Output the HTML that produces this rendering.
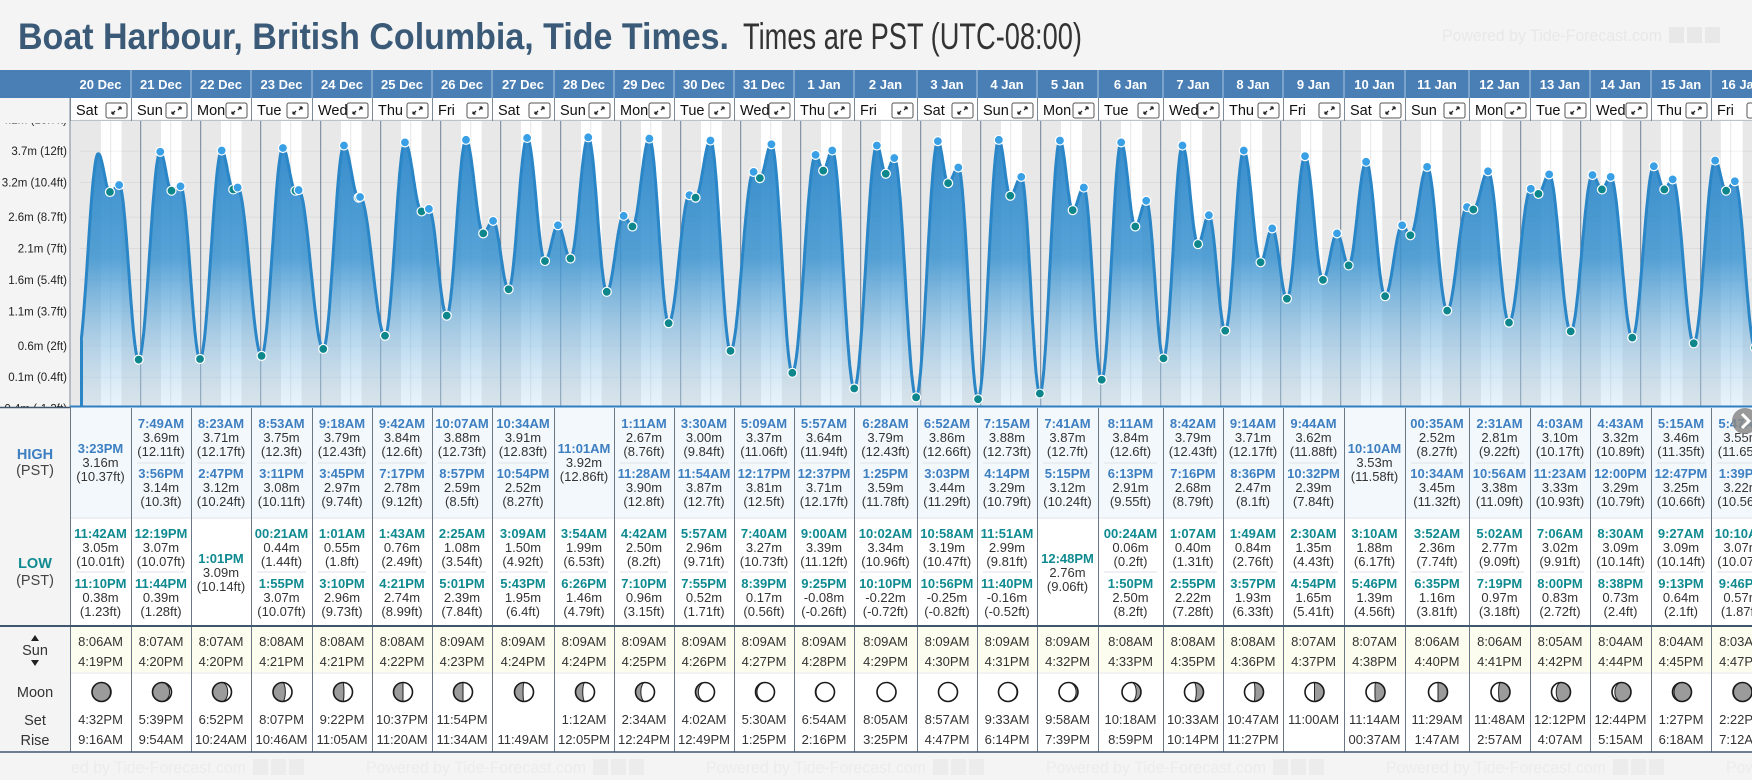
<!DOCTYPE html>
<html><head><meta charset="utf-8"><style>
html,body{margin:0;padding:0;background:#f4f4f4;width:1752px;height:780px;overflow:hidden}
svg{display:block;font-family:"Liberation Sans",sans-serif}
</style></head><body>
<svg id="root" width="1752" height="780" viewBox="0 0 1752 780" xmlns="http://www.w3.org/2000/svg">
<rect x="0" y="0" width="1752" height="780" fill="#f4f4f4"/>
<text x="18" y="49" font-size="37" font-weight="bold" fill="#3a5a78" textLength="711" lengthAdjust="spacingAndGlyphs">Boat Harbour, British Columbia, Tide Times.</text>
<text x="743" y="49" font-size="37" fill="#333" textLength="339" lengthAdjust="spacingAndGlyphs">Times are PST (UTC-08:00)</text>
<g>
<text x="1442" y="41" font-size="17" fill="#e8e8e8" textLength="220" lengthAdjust="spacingAndGlyphs">Powered by Tide-Forecast.com</text>
<rect x="1669" y="27" width="15" height="16" fill="#e8e8e8"/><rect x="1687" y="27" width="15" height="16" fill="#e8e8e8"/><rect x="1705" y="27" width="15" height="16" fill="#e8e8e8"/>
</g>
<g id="g"></g>
</svg>
<script>
const days=['20 Dec','21 Dec','22 Dec','23 Dec','24 Dec','25 Dec','26 Dec','27 Dec','28 Dec','29 Dec','30 Dec','31 Dec','1 Jan','2 Jan','3 Jan','4 Jan','5 Jan','6 Jan','7 Jan','8 Jan','9 Jan','10 Jan','11 Jan','12 Jan','13 Jan','14 Jan','15 Jan','16 Jan'];
const dows=['Sat','Sun','Mon','Tue','Wed','Thu','Fri','Sat','Sun','Mon','Tue','Wed','Thu','Fri','Sat','Sun','Mon','Tue','Wed','Thu','Fri','Sat','Sun','Mon','Tue','Wed','Thu','Fri'];
const highs=[
[['3:23PM',3.16,'10.37']],
[['7:49AM',3.69,'12.11'],['3:56PM',3.14,'10.3']],
[['8:23AM',3.71,'12.17'],['2:47PM',3.12,'10.24']],
[['8:53AM',3.75,'12.3'],['3:11PM',3.08,'10.11']],
[['9:18AM',3.79,'12.43'],['3:45PM',2.97,'9.74']],
[['9:42AM',3.84,'12.6'],['7:17PM',2.78,'9.12']],
[['10:07AM',3.88,'12.73'],['8:57PM',2.59,'8.5']],
[['10:34AM',3.91,'12.83'],['10:54PM',2.52,'8.27']],
[['11:01AM',3.92,'12.86']],
[['1:11AM',2.67,'8.76'],['11:28AM',3.90,'12.8']],
[['3:30AM',3.00,'9.84'],['11:54AM',3.87,'12.7']],
[['5:09AM',3.37,'11.06'],['12:17PM',3.81,'12.5']],
[['5:57AM',3.64,'11.94'],['12:37PM',3.71,'12.17']],
[['6:28AM',3.79,'12.43'],['1:25PM',3.59,'11.78']],
[['6:52AM',3.86,'12.66'],['3:03PM',3.44,'11.29']],
[['7:15AM',3.88,'12.73'],['4:14PM',3.29,'10.79']],
[['7:41AM',3.87,'12.7'],['5:15PM',3.12,'10.24']],
[['8:11AM',3.84,'12.6'],['6:13PM',2.91,'9.55']],
[['8:42AM',3.79,'12.43'],['7:16PM',2.68,'8.79']],
[['9:14AM',3.71,'12.17'],['8:36PM',2.47,'8.1']],
[['9:44AM',3.62,'11.88'],['10:32PM',2.39,'7.84']],
[['10:10AM',3.53,'11.58']],
[['00:35AM',2.52,'8.27'],['10:34AM',3.45,'11.32']],
[['2:31AM',2.81,'9.22'],['10:56AM',3.38,'11.09']],
[['4:03AM',3.10,'10.17'],['11:23AM',3.33,'10.93']],
[['4:43AM',3.32,'10.89'],['12:00PM',3.29,'10.79']],
[['5:15AM',3.46,'11.35'],['12:47PM',3.25,'10.66']],
[['5:47AM',3.55,'11.65'],['1:39PM',3.22,'10.56']]];
const lows=[
[['11:42AM',3.05,'10.01'],['11:10PM',0.38,'1.23']],
[['12:19PM',3.07,'10.07'],['11:44PM',0.39,'1.28']],
[['1:01PM',3.09,'10.14']],
[['00:21AM',0.44,'1.44'],['1:55PM',3.07,'10.07']],
[['1:01AM',0.55,'1.8'],['3:10PM',2.96,'9.73']],
[['1:43AM',0.76,'2.49'],['4:21PM',2.74,'8.99']],
[['2:25AM',1.08,'3.54'],['5:01PM',2.39,'7.84']],
[['3:09AM',1.50,'4.92'],['5:43PM',1.95,'6.4']],
[['3:54AM',1.99,'6.53'],['6:26PM',1.46,'4.79']],
[['4:42AM',2.50,'8.2'],['7:10PM',0.96,'3.15']],
[['5:57AM',2.96,'9.71'],['7:55PM',0.52,'1.71']],
[['7:40AM',3.27,'10.73'],['8:39PM',0.17,'0.56']],
[['9:00AM',3.39,'11.12'],['9:25PM',-0.08,'-0.26']],
[['10:02AM',3.34,'10.96'],['10:10PM',-0.22,'-0.72']],
[['10:58AM',3.19,'10.47'],['10:56PM',-0.25,'-0.82']],
[['11:51AM',2.99,'9.81'],['11:40PM',-0.16,'-0.52']],
[['12:48PM',2.76,'9.06']],
[['00:24AM',0.06,'0.2'],['1:50PM',2.50,'8.2']],
[['1:07AM',0.40,'1.31'],['2:55PM',2.22,'7.28']],
[['1:49AM',0.84,'2.76'],['3:57PM',1.93,'6.33']],
[['2:30AM',1.35,'4.43'],['4:54PM',1.65,'5.41']],
[['3:10AM',1.88,'6.17'],['5:46PM',1.39,'4.56']],
[['3:52AM',2.36,'7.74'],['6:35PM',1.16,'3.81']],
[['5:02AM',2.77,'9.09'],['7:19PM',0.97,'3.18']],
[['7:06AM',3.02,'9.91'],['8:00PM',0.83,'2.72']],
[['8:30AM',3.09,'10.14'],['8:38PM',0.73,'2.4']],
[['9:27AM',3.09,'10.14'],['9:13PM',0.64,'2.1']],
[['10:10AM',3.07,'10.07'],['9:46PM',0.57,'1.87']]];
const extraDays=[-1,0,28];
const extraTimes=['10:30PM','7:00AM','6:20AM'];
const extraHeights=[0.37,3.66,3.6];
const sunrise=['8:06AM','8:07AM','8:07AM','8:08AM','8:08AM','8:08AM','8:09AM','8:09AM','8:09AM','8:09AM','8:09AM','8:09AM','8:09AM','8:09AM','8:09AM','8:09AM','8:09AM','8:08AM','8:08AM','8:08AM','8:07AM','8:07AM','8:06AM','8:06AM','8:05AM','8:04AM','8:04AM','8:03AM'];
const sunset=['4:19PM','4:20PM','4:20PM','4:21PM','4:21PM','4:22PM','4:23PM','4:24PM','4:24PM','4:25PM','4:26PM','4:27PM','4:28PM','4:29PM','4:30PM','4:31PM','4:32PM','4:33PM','4:35PM','4:36PM','4:37PM','4:38PM','4:40PM','4:41PM','4:42PM','4:44PM','4:45PM','4:47PM'];
const moonset=['4:32PM','5:39PM','6:52PM','8:07PM','9:22PM','10:37PM','11:54PM','','1:12AM','2:34AM','4:02AM','5:30AM','6:54AM','8:05AM','8:57AM','9:33AM','9:58AM','10:18AM','10:33AM','10:47AM','11:00AM','11:14AM','11:29AM','11:48AM','12:12PM','12:44PM','1:27PM','2:22PM'];
const moonrise=['9:16AM','9:54AM','10:24AM','10:46AM','11:05AM','11:20AM','11:34AM','11:49AM','12:05PM','12:24PM','12:49PM','1:25PM','2:16PM','3:25PM','4:47PM','6:14PM','7:39PM','8:59PM','10:14PM','11:27PM','','00:37AM','1:47AM','2:57AM','4:07AM','5:15AM','6:18AM','7:12AM'];
const moonLit=[0.03,0.1,0.2,0.35,0.45,0.5,0.5,0.55,0.62,0.72,0.85,0.92,0.97,1,1,0.97,0.9,0.75,0.62,0.55,0.5,0.47,0.5,0.4,0.25,0.15,0.08,0.03];
const moonWaxing=[1,1,1,1,1,1,1,1,1,1,1,1,1,1,1,0,0,0,0,0,0,0,0,0,0,0,0,0];
const yTicks=['4.2m (13.7ft)','3.7m (12ft)','3.2m (10.4ft)','2.6m (8.7ft)','2.1m (7ft)','1.6m (5.4ft)','1.1m (3.7ft)','0.6m (2ft)','0.1m (0.4ft)','-0.4m (-1.3ft)'];
const yTickVals=[4.2,3.7,3.2,2.65,2.15,1.65,1.15,0.6,0.1,-0.4];

const colEdges=[70,131,191,251,312,372,432,492,554,614,674,734,794,854,917,977,1037,1098,1163,1223,1283,1344,1405,1469,1530,1590,1651,1711,1772];
const NS='http://www.w3.org/2000/svg';
const G=document.getElementById('g');
function mk(tag,attrs,parent){const e=document.createElementNS(NS,tag);for(const k in attrs)e.setAttribute(k,attrs[k]);(parent||G).appendChild(e);return e;}
function hrs(s){const m=s.match(/(\d+):(\d+)(AM|PM)/);let h=(+m[1])%12;if(m[3]==='PM')h+=12;return h+(+m[2])/60;}
const CH_TOP=121,CH_BOT=407;
function xT(t){return 80.7+60*t;}
function yH(h){return 383.5-h*62.8;}
function cc(i){return (colEdges[i]+colEdges[i+1])/2;}

const defs=mk('defs',{});
const grad=mk('linearGradient',{id:'fillGrad',x1:0,y1:0,x2:0,y2:1},defs);
mk('stop',{offset:'0','stop-color':'#1f7fc6','stop-opacity':'0.9'},grad);
mk('stop',{offset:'0.45','stop-color':'#3a93d0','stop-opacity':'0.85'},grad);
mk('stop',{offset:'1','stop-color':'#b8d9f0','stop-opacity':'0.3'},grad);
const cp=mk('clipPath',{id:'chartClip'},defs);
mk('rect',{x:80,y:CH_TOP,width:1672,height:CH_BOT-CH_TOP},cp);
const fc=mk('clipPath',{id:'footClip'},defs);
mk('rect',{x:70,y:752,width:1682,height:28},fc);

let e=mk('rect',{x:0,y:70,width:1752,height:28,fill:'#4a7fb5'});


e=mk('rect',{x:70,y:98,width:1682,height:23,fill:'#fff'});


mk('line',{x1:0,y1:121,x2:1752,y2:121,stroke:'#7d8a98','stroke-width':1});
for(let i=0;i<days.length;i++){
  const x0=colEdges[i],x1=colEdges[i+1];
  if(i>0){mk('line',{x1:x0,y1:70,x2:x0,y2:98,stroke:'#a9c4df','stroke-width':1});}
  mk('line',{x1:x0+0.5,y1:98,x2:x0+0.5,y2:121,stroke:'#7d8a98','stroke-width':1});
  e=mk('text',{x:cc(i),y:89,'text-anchor':'middle','font-size':13,'font-weight':'bold',fill:'#fff'});
  e.textContent=days[i];
  
  
  e=mk('text',{x:x0+6,y:115,'font-size':14.5,fill:'#111'});
  e.textContent=dows[i];
  
  
  const bx=x1-25,by=103;
  const btn=mk('g',{});
  
  
  mk('rect',{x:bx,y:by,width:21,height:15,rx:2,fill:'#fff',stroke:'#555','stroke-width':1},btn);
  mk('path',{d:`M${bx+6} ${by+11} L${bx+9} ${by+8} M${bx+6} ${by+11} h2.5 M${bx+6} ${by+11} v-2.5 M${bx+15} ${by+4} L${bx+12} ${by+7} M${bx+15} ${by+4} h-2.5 M${bx+15} ${by+4} v2.5`,stroke:'#222','stroke-width':1.3,fill:'none'},btn);
}

e=mk('rect',{x:70,y:CH_TOP,width:1682,height:CH_BOT-CH_TOP,fill:'#e8e8e8'});


const bands=mk('g',{'clip-path':'url(#chartClip)'});
for(let i=0;i<days.length;i++){
  const a=xT(i+hrs(sunrise[i])/24),b=xT(i+hrs(sunset[i])/24);
  e=mk('rect',{x:a,y:CH_TOP,width:b-a,height:CH_BOT-CH_TOP,fill:'#fff'},bands);
  
  
  mk('line',{x1:xT(i+0.5),y1:CH_TOP,x2:xT(i+0.5),y2:CH_BOT,stroke:'#e6e6e6','stroke-width':1},bands);
}
for(let k=0;k<yTickVals.length;k++){
  const y=yH(yTickVals[k]);
  mk('line',{x1:80,y1:y,x2:1752,y2:y,stroke:'#000','stroke-opacity':0.05,'stroke-width':1});
}
for(let d=1;d<days.length;d++){
  e=mk('line',{x1:xT(d),y1:CH_TOP,x2:xT(d),y2:CH_BOT,stroke:'#6e8096','stroke-width':1});
  
  
}
for(let k=0;k<yTicks.length;k++){
  e=mk('text',{x:67,y:yH(yTickVals[k])+4,'text-anchor':'end','font-size':11.5,fill:'#222'});
  e.textContent=yTicks[k];
  
  
}
mk('rect',{x:0,y:98,width:70,height:25,fill:'#f4f4f4'});
mk('line',{x1:70,y1:98,x2:70,y2:407,stroke:'#7d8a98','stroke-width':1});

const ext=[];
for(let i=0;i<extraDays.length;i++)ext.push({t:extraDays[i]+hrs(extraTimes[i])/24,h:extraHeights[i],type:'X'});
for(let i=0;i<days.length;i++){
  highs[i].forEach(r=>ext.push({t:i+hrs(r[0])/24,h:r[1],type:'H'}));
  lows[i].forEach(r=>ext.push({t:i+hrs(r[0])/24,h:r[1],type:'L'}));
}
ext.sort((a,b)=>a.t-b.t);
let pts=[];
for(let i=0;i<ext.length-1;i++){
  const a=ext[i],b=ext[i+1],N=30;
  for(let s=0;s<N;s++){const u=s/N;const t=a.t+(b.t-a.t)*u;const h=a.h+(b.h-a.h)*(1-Math.cos(Math.PI*u))/2;pts.push([xT(t),yH(h)]);}
}
pts.push([xT(ext[ext.length-1].t),yH(ext[ext.length-1].h)]);
const line='M'+pts.map(p=>p[0].toFixed(1)+' '+p[1].toFixed(1)).join(' L');
const cg=mk('g',{'clip-path':'url(#chartClip)'});
e=mk('path',{d:line+` L${pts[pts.length-1][0]} ${CH_BOT} L${pts[0][0]} ${CH_BOT} Z`,fill:'url(#fillGrad)'},cg);


e=mk('path',{d:line,fill:'none',stroke:'#2a86c6','stroke-width':3,'stroke-linejoin':'round'},cg);


let startY=0;for(const p of pts){if(p[0]>=81){startY=p[1];break;}}
mk('line',{x1:81.5,y1:startY,x2:81.5,y2:CH_BOT,stroke:'#2a86c6','stroke-width':3});
for(const p of ext){
  if(p.type==='X')continue;
  e=mk('circle',{cx:xT(p.t),cy:yH(p.h),r:4.5,fill:p.type==='H'?'#3aa0e5':'#0d868c',stroke:'#fff','stroke-width':1.2},cg);
  
  
}
mk('line',{x1:70,y1:406.5,x2:1752,y2:406.5,stroke:'#2f80c2','stroke-width':2});

e=mk('rect',{x:70,y:408,width:1682,height:110,fill:'#f3f8fc'});


e=mk('rect',{x:70,y:518,width:1682,height:108,fill:'#fff'});


e=mk('rect',{x:70,y:627,width:1682,height:46,fill:'#fcfcef'});


e=mk('rect',{x:70,y:673,width:1682,height:79,fill:'#fff'});


mk('line',{x1:70,y1:518,x2:1752,y2:518,stroke:'#e6ebf0','stroke-width':1.5});
mk('line',{x1:70,y1:673,x2:1752,y2:673,stroke:'#eee','stroke-width':1.5});

function cellEntries(list,i,pos1,pos2,posS,color,name,sepY){
  const c=cc(i),x0=colEdges[i],x1=colEdges[i+1];
  const rows=list.length===1?[posS]:[pos1,pos2];
  if(list.length===2)mk('line',{x1:x0+6,y1:sepY,x2:x1-6,y2:sepY,stroke:'#e3e7ec','stroke-width':1.2});
  list.forEach((r,j)=>{
    const ys=rows[j];
    let t=mk('text',{x:c,y:ys[0],'text-anchor':'middle','font-size':13,'font-weight':'bold',fill:color});
    t.textContent=r[0];
    
    
    t=mk('text',{x:c,y:ys[1],'text-anchor':'middle','font-size':13,fill:'#333'});
    t.textContent=r[1].toFixed(2)+'m';
    
    
    t=mk('text',{x:c,y:ys[2],'text-anchor':'middle','font-size':13,fill:'#333'});
    t.textContent='('+r[2]+'ft)';
    
    
  });
}
function moon(cx,cy,r,f,wax){
  const g=mk('g',{});
  
  
  mk('circle',{cx,cy,r,fill:'#9b9b9b'},g);
  const rx=Math.abs(1-2*f)*r;
  let outer=wax?1:0, term;
  if(wax)term=f>0.5?1:0; else term=f>0.5?0:1;
  if(f>0.01)mk('path',{d:`M${cx} ${cy-r} A${r} ${r} 0 0 ${outer} ${cx} ${cy+r} A${rx} ${r} 0 0 ${term} ${cx} ${cy-r} Z`,fill:'#fff',stroke:'#222','stroke-width':1},g);
  mk('circle',{cx,cy,r,fill:'none',stroke:'#1a1a1a','stroke-width':1.6},g);
}
for(let i=0;i<days.length;i++){
  const c=cc(i);
  cellEntries(highs[i],i,[428,442,456],[478,492,506],[453,467,481],'#3d7fc1','high-tide',463);
  cellEntries(lows[i],i,[538,552,566],[588,602,616],[563,577,591],'#0f8a90','low-tide',572);
  e=mk('text',{x:c,y:646,'text-anchor':'middle','font-size':13,fill:'#333'});
  e.textContent=sunrise[i];
  
  
  e=mk('text',{x:c,y:666,'text-anchor':'middle','font-size':13,fill:'#333'});
  e.textContent=sunset[i];
  
  
  moon(c+1,692,9.5,moonLit[i],moonWaxing[i]);
  e=mk('text',{x:c,y:724,'text-anchor':'middle','font-size':13,fill:'#333'});
  e.textContent=moonset[i];
  
  
  e=mk('text',{x:c,y:744,'text-anchor':'middle','font-size':13,fill:'#333'});
  e.textContent=moonrise[i];
  
  
}
for(let i=1;i<colEdges.length-1;i++){
  mk('line',{x1:colEdges[i]+0.5,y1:408,x2:colEdges[i]+0.5,y2:752,stroke:'#6b7785','stroke-width':1});
}
mk('rect',{x:0,y:407,width:70,height:345,fill:'#f4f4f4'});
mk('line',{x1:70.5,y1:407,x2:70.5,y2:752,stroke:'#6b7785','stroke-width':1});
const labels=[['HIGH',459,'#3d7fc1','bold','high-row-label'],['(PST)',475,'#444','normal','high-row-tz'],['LOW',568,'#0f8a90','bold','low-row-label'],['(PST)',585,'#444','normal','low-row-tz'],['Sun',655,'#333','normal','sun-row-label'],['Moon',697,'#333','normal','moon-row-label'],['Set',725,'#333','normal','moonset-label'],['Rise',745,'#333','normal','moonrise-label']];
for(const L of labels){
  e=mk('text',{x:35,y:L[1],'text-anchor':'middle','font-size':14.5,'font-weight':L[3],fill:L[2]});
  e.textContent=L[0];
  
  
}
mk('path',{d:'M31 641 L35 635 L39 641 Z M31 660 L35 666 L39 660 Z',fill:'#222'});
mk('line',{x1:0,y1:626,x2:1752,y2:626,stroke:'#3e566e','stroke-width':2});
mk('line',{x1:0,y1:752,x2:1752,y2:752,stroke:'#3e566e','stroke-width':1.5});
mk('line',{x1:0,y1:407.5,x2:70,y2:407.5,stroke:'#3e566e','stroke-width':1.5});
const nb=mk('g',{});


mk('circle',{cx:1745,cy:421,r:13,fill:'#888','fill-opacity':0.85},nb);
mk('path',{d:'M1742 414 L1749 421 L1742 428',stroke:'#fff','stroke-width':3,fill:'none'},nb);
const fg=mk('g',{'clip-path':'url(#footClip)'});


for(let k=0;k<6;k++){
  const t=mk('text',{x:26+340*k,y:773,'font-size':17,fill:'#ececec',textLength:220,lengthAdjust:'spacingAndGlyphs'},fg);
  t.textContent='Powered by Tide-Forecast.com';
  mk('rect',{x:26+340*k+227,y:759,width:15,height:16,fill:'#ececec'},fg);
  mk('rect',{x:26+340*k+245,y:759,width:15,height:16,fill:'#ececec'},fg);
  mk('rect',{x:26+340*k+263,y:759,width:15,height:16,fill:'#ececec'},fg);
}
</script>
</body></html>
